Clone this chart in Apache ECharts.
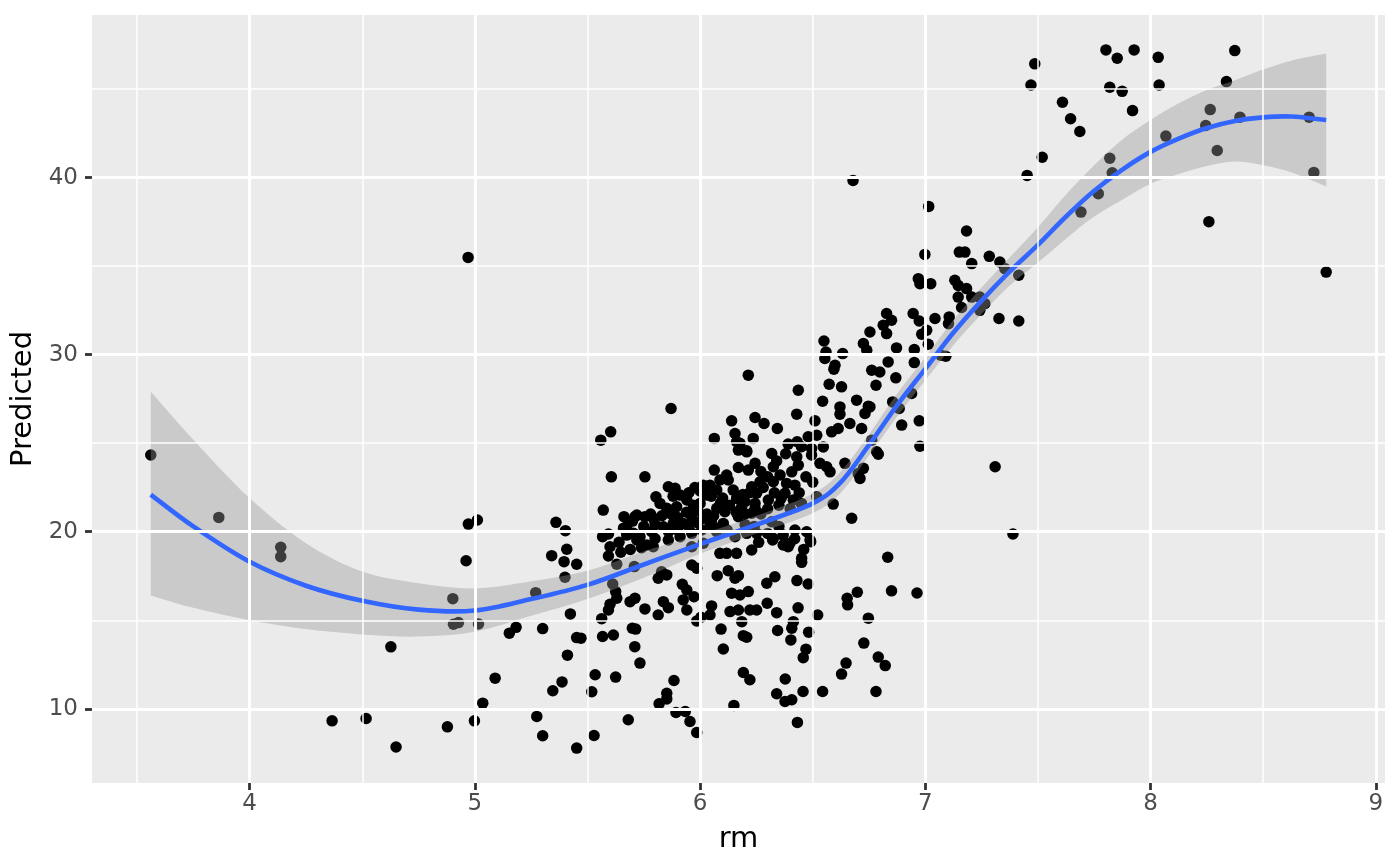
<!DOCTYPE html>
<html>
<head>
<meta charset="utf-8">
<script src="https://cdn.jsdelivr.net/npm/echarts@6/dist/echarts.min.js"></script>
<style>
html,body{margin:0;padding:0;background:#fff;}
#chart{width:1400px;height:866px;}
</style>
</head>
<body>
<div id="chart"></div>
<script>
// ---- data: [rm, Predicted] pairs, grouped by region ----
const ptsLeft = [[3.561,24.33],[3.863,20.81],[4.138,19.12],[4.138,18.59],[4.971,20.43],[5.011,20.66],[4.961,18.36],[4.902,16.22],[4.905,14.78],[4.927,14.87],[5.016,14.79],[4.627,13.5],[4.366,9.32],[4.517,9.45],[4.65,7.84],[4.878,8.98],[4.998,9.32],[5.035,10.32],[4.97,35.49]];
const ptsMidLeft = [[5.603,25.64],[5.559,25.17],[5.606,23.1],[5.57,21.22],[5.36,20.53],[5.402,20.06],[5.408,19.01],[5.341,18.65],[5.396,18.31],[5.452,18.16],[5.4,17.43],[5.27,16.56],[5.183,14.6],[5.153,14.27],[5.301,14.53],[5.424,15.36],[5.452,14.02],[5.471,13.99],[5.411,13.03],[5.09,11.73],[5.387,11.52],[5.346,11.02],[5.275,9.57],[5.301,8.48],[5.452,7.78],[5.529,8.49],[5.519,10.96],[5.534,11.92],[5.625,11.79],[5.681,9.38],[5.567,14.08],[5.615,14.17],[5.563,15.09],[5.593,15.58],[5.6,15.9],[5.63,16.24],[5.625,16.62],[5.612,17.05],[5.63,18.16],[5.593,18.63],[5.6,19.15],[5.648,18.84],[5.567,19.72],[5.593,19.87],[5.662,20.85],[5.674,20.28],[5.711,20.85],[5.674,19.81],[5.704,19.91],[5.719,19.53],[5.708,18.03],[5.689,16.05],[5.711,16.24],[5.699,14.55],[5.714,14.5],[5.71,13.51],[5.733,12.58]];
const ptsCoreLow = [[5.884,11.6],[5.852,10.88],[5.818,10.28],[5.852,10.56],[5.893,9.79],[5.934,9.85],[5.955,9.28],[5.985,8.66],[6.15,10.19],[6.093,14.5],[6.103,13.38],[6.192,12.05],[6.221,11.64],[6.192,14.13],[6.207,14.04],[5.814,15.3],[5.755,15.64],[5.837,16.05],[5.859,15.71],[5.921,17.03],[5.941,16.71],[5.925,16.15],[5.973,16.33],[5.941,15.58],[5.985,14.96],[6.004,15.17],[6.044,15.3],[6.051,15.81],[5.963,18.12],[5.985,17.94],[5.814,17.37],[5.852,17.56],[5.829,17.74],[6.076,17.52],[6.125,17.8],[6.17,17.52],[6.155,17.37],[6.14,16.53],[6.177,16.43],[6.214,16.62],[6.133,15.49],[6.17,15.58],[6.185,14.92],[6.221,15.58],[6.251,15.58],[6.088,18.78],[6.118,18.78],[6.162,18.78],[6.229,18.97]];
const ptsCoreHigh = [[5.871,26.96],[6.14,26.26],[6.244,26.45],[6.063,25.27],[6.155,25.55],[6.162,25.08],[6.17,24.61],[6.207,24.57],[6.236,25.27],[5.755,23.1],[6.063,23.48],[6.118,23.2],[6.17,23.63],[6.214,23.48],[6.244,23.86],[5.859,22.54],[5.889,22.45],[5.977,22.5],[6.014,22.63],[6.044,22.63],[6.088,22.92],[6.125,22.92],[6.147,22.35],[6.229,22.54],[5.804,21.97],[5.911,22.07],[5.941,21.79],[6.029,22.07],[6.074,22.35],[6.162,21.88],[5.719,20.94],[5.755,20.85],[5.792,20.76],[5.822,21.6],[5.852,21.32],[5.896,21.41],[5.97,21.5],[6.0,21.6],[6.074,21.32],[6.11,21.13],[6.185,21.41],[6.244,21.6],[5.733,19.72],[5.785,20.0],[5.837,20.28],[5.881,20.47],[5.925,20.47],[5.963,20.85],[6.014,20.76],[6.044,20.38],[6.103,20.47],[6.17,20.85],[6.229,21.04],[5.763,19.25],[5.792,19.15],[5.859,19.53],[5.911,19.72],[5.963,19.91],[6.007,20.1],[6.074,20.0],[6.155,19.72],[6.207,19.91],[5.963,19.15],[6.014,19.35]];
const ptsCoreFill = [[5.78,21.0],[5.83,20.9],[5.87,21.0],[5.9,20.8],[5.94,21.1],[5.99,21.2],[6.03,21.0],[6.06,20.9],[6.09,21.6],[6.13,21.5],[6.16,21.1],[6.2,21.0],[5.8,20.4],[5.86,20.0],[5.9,20.1],[5.95,20.3],[5.99,20.5],[6.05,20.6],[6.08,20.2],[6.12,20.1],[6.2,20.4],[6.24,20.3],[5.88,22.0],[5.95,22.2],[6.0,22.3],[6.05,22.0],[6.1,21.9],[6.19,22.1],[6.22,22.2],[5.75,20.3],[5.7,20.6],[5.66,20.2],[5.64,19.4],[5.69,19.0],[5.74,19.1],[5.8,19.6],[6.27,21.0],[6.3,21.3],[6.35,21.5],[6.4,21.3],[6.45,21.6],[6.28,22.5],[6.33,22.2],[6.36,21.9],[6.3,23.1],[6.27,23.4],[6.34,24.0],[6.38,24.4],[6.45,24.8],[6.47,23.1],[6.5,22.8],[6.44,22.2],[6.26,19.4],[6.3,19.9],[6.35,20.3],[6.42,19.6],[6.46,19.0]];
const ptsRightLow = [[6.833,18.56],[6.85,16.66],[6.698,16.58],[6.653,16.24],[6.655,15.87],[6.747,15.12],[6.727,13.71],[6.791,12.92],[6.822,12.44],[6.648,12.58],[6.628,11.96],[6.781,10.98],[6.544,10.98],[6.457,10.98],[6.378,11.68],[6.34,10.85],[6.377,10.41],[6.407,10.51],[6.432,9.23],[6.522,15.3],[6.482,14.33],[6.47,13.37],[6.458,12.89],[6.403,13.89],[6.414,14.92],[6.407,14.55],[6.344,14.42],[6.34,15.43],[6.298,15.96],[6.435,15.7],[6.48,17.05],[6.43,17.24],[6.332,17.46],[6.296,17.09],[6.451,18.27],[6.369,19.25],[6.399,19.35],[6.491,19.44],[6.322,19.53],[6.963,16.54],[7.389,19.87]];
const ptsRightMid = [[6.214,28.84],[6.55,30.77],[6.559,30.15],[6.554,29.78],[6.633,30.06],[6.599,29.4],[6.594,29.18],[6.436,27.99],[6.573,28.33],[6.628,28.18],[6.544,27.37],[6.429,26.64],[6.621,27.05],[6.621,26.64],[6.695,27.43],[6.747,27.09],[6.732,26.68],[6.284,26.11],[6.343,25.83],[6.51,26.26],[6.391,24.95],[6.431,25.08],[6.48,25.36],[6.518,25.45],[6.584,25.64],[6.613,25.83],[6.665,26.11],[6.717,25.83],[6.762,25.17],[6.784,24.51],[6.495,24.7],[6.547,24.79],[6.177,24.99],[6.207,24.51],[6.318,24.42],[6.429,24.23],[6.495,24.33],[6.532,23.86],[6.562,23.67],[6.577,23.38],[6.643,23.86],[6.702,23.29],[6.725,23.58],[6.71,23.01],[6.325,23.67],[6.355,23.2],[6.407,23.38],[6.436,23.76],[6.384,22.73],[6.421,22.63],[6.266,22.82],[6.325,22.82],[6.251,22.17],[6.303,21.79],[6.199,21.69],[6.377,22.17],[6.414,21.79],[6.518,21.97],[6.591,21.56],[6.673,20.76],[6.244,21.32],[6.177,21.22],[6.318,20.56],[6.251,19.91],[6.325,19.63],[6.369,19.81],[6.421,20.1],[6.473,20.0],[6.488,19.53],[6.391,19.15],[6.451,18.5],[6.679,39.84]];
const ptsUpper = [[6.828,32.32],[6.813,31.66],[6.828,31.19],[6.754,31.28],[6.725,30.63],[6.74,30.25],[6.762,29.12],[6.798,29.02],[6.781,28.27],[6.835,29.59],[7.519,41.15],[7.452,40.12],[7.015,38.37],[7.183,36.98],[6.998,35.66],[7.151,35.79],[7.176,35.79],[7.206,35.14],[7.284,35.55],[7.331,35.23],[7.353,34.86],[7.415,34.48],[6.969,34.29],[6.976,34.01],[7.024,34.01],[7.131,34.2],[7.146,33.91],[7.183,33.73],[7.146,33.25],[7.206,33.25],[7.242,33.25],[7.264,32.88],[7.242,32.5],[7.161,32.66],[7.327,32.04],[7.415,31.9],[7.106,32.13],[7.103,31.75],[6.85,31.94],[6.946,32.32],[6.973,31.9],[7.043,32.04],[7.006,31.38],[6.984,31.15],[7.013,30.59],[6.872,30.38],[6.951,30.29],[7.069,29.97],[7.091,29.91],[6.951,29.55],[6.869,28.69],[6.939,27.81],[6.855,27.33],[6.884,26.96],[6.754,27.05],[6.973,26.26],[6.895,26.02],[6.791,24.38],[6.976,24.83],[7.31,23.67]];
const ptsTop = [[7.486,46.42],[7.469,45.23],[7.802,47.21],[7.852,46.74],[7.927,47.21],[8.034,46.79],[7.819,45.1],[7.874,44.87],[8.038,45.23],[8.374,47.17],[8.337,45.42],[7.609,44.25],[7.645,43.32],[7.686,42.6],[7.92,43.78],[7.819,41.09],[7.83,40.27],[8.068,42.34],[8.265,43.84],[8.245,42.94],[8.296,41.53],[8.397,43.41],[8.704,43.41],[8.725,40.29],[8.259,37.51],[8.78,34.66],[7.768,39.09],[7.691,38.05]];

// ---- loess smooth (fit, lower and upper 95% band) ----
const smoothX  = [3.561,3.75,4.0,4.25,4.5,4.75,5.0,5.25,5.5,5.75,6.0,6.25,6.5,6.625,6.75,6.875,7.0,7.125,7.25,7.375,7.5,7.625,7.75,7.875,8.0,8.125,8.25,8.375,8.5,8.625,8.78];
const smoothFit= [22.1,20.3,18.3,16.95,16.1,15.6,15.55,16.2,17.0,18.15,19.3,20.4,21.6,22.8,24.9,27.15,29.2,31.25,33.05,34.7,36.2,37.8,39.25,40.45,41.45,42.2,42.8,43.2,43.4,43.45,43.25];
const smoothLo = [16.4,15.7,15.0,14.5,14.2,14.08,14.35,15.25,16.2,17.4,18.75,19.9,21.05,22.2,24.3,26.5,28.55,30.55,32.3,33.9,35.2,36.55,37.8,38.75,39.65,40.2,40.65,40.9,40.7,40.3,39.5];
const smoothHi = [27.9,25.2,21.9,19.35,17.75,17.09,16.8,17.2,17.8,18.9,19.85,20.9,22.15,23.4,25.5,27.8,29.85,31.95,33.8,35.5,37.2,39.05,40.7,42.15,43.25,44.2,44.95,45.5,46.1,46.6,47.0];

// ---- axes ----
const xTicks = [4,5,6,7,8,9];
const xMinor = [3.5,4.5,5.5,6.5,7.5,8.5];
const yTicks = [10,20,30,40];
const yMinor = [15,25,35,45];
const xLim = [3.300, 9.041];
const yLim = [5.81, 49.18];

const points = [].concat(ptsLeft, ptsMidLeft, ptsCoreLow, ptsCoreHigh, ptsCoreFill, ptsRightLow, ptsRightMid, ptsUpper, ptsTop);

// Catmull-Rom spline through pixel points -> SVG path segments
function splineSegs(p) {
  let s = '';
  for (let i = 0; i < p.length - 1; i++) {
    const p0 = p[Math.max(i - 1, 0)], p1 = p[i], p2 = p[i + 1], p3 = p[Math.min(i + 2, p.length - 1)];
    const c1 = [p1[0] + (p2[0] - p0[0]) / 6, p1[1] + (p2[1] - p0[1]) / 6];
    const c2 = [p2[0] - (p3[0] - p1[0]) / 6, p2[1] - (p3[1] - p1[1]) / 6];
    s += 'C' + c1[0] + ',' + c1[1] + ' ' + c2[0] + ',' + c2[1] + ' ' + p2[0] + ',' + p2[1];
  }
  return s;
}

const FONT = 'DejaVu Sans';
const chart = echarts.init(document.getElementById('chart'), null, {renderer:'canvas'});
const gridLine = (w)=>({color:'#ffffff', width:w, type:'solid'});
chart.setOption({
  animation:false,
  backgroundColor:'#ffffff',
  grid:{left:92, right:15, top:15, bottom:83, show:true, backgroundColor:'#EBEBEB', borderWidth:0},
  xAxis:{
    type:'value', min:xLim[0], max:xLim[1],
    name:'rm', nameLocation:'middle', nameGap:42,
    nameTextStyle:{fontFamily:FONT, fontSize:29, color:'#000'},
    axisLine:{show:false},
    axisTick:{show:true, customValues:xTicks, length:7, lineStyle:{color:'#333333', width:2.8}},
    axisLabel:{customValues:xTicks, fontFamily:FONT, fontSize:23, color:'#4D4D4D', margin:10},
    splitLine:{show:false}
  },
  yAxis:{
    type:'value', min:yLim[0], max:yLim[1],
    name:'Predicted', nameLocation:'middle', nameGap:41, nameRotate:90,
    nameTextStyle:{fontFamily:FONT, fontSize:29, color:'#000'},
    axisLine:{show:false},
    axisTick:{show:true, customValues:yTicks, length:7, lineStyle:{color:'#333333', width:2.8}},
    axisLabel:{customValues:yTicks, fontFamily:FONT, fontSize:23, color:'#4D4D4D', margin:14},
    splitLine:{show:false}
  },
  series:[
    {type:'scatter', name:'gridMinor', data:[], z:1, silent:true,
     markLine:{silent:true, symbol:['none','none'], label:{show:false}, lineStyle:gridLine(1.5),
       emphasis:{disabled:true},
       data: xMinor.map(v=>({xAxis:v})).concat(yMinor.map(v=>({yAxis:v})))}},
    {type:'scatter', name:'gridMajor', data:[], z:1, silent:true,
     markLine:{silent:true, symbol:['none','none'], label:{show:false}, lineStyle:gridLine(2.9),
       emphasis:{disabled:true},
       data: xTicks.map(v=>({xAxis:v})).concat(yTicks.map(v=>({yAxis:v})))}},
    {type:'scatter', name:'points', data:points, symbol:'circle', symbolSize:11.5, z:2,
     itemStyle:{color:'#000000', opacity:1}, silent:true},
    {type:'custom', name:'ribbon', data:[[smoothX[0], smoothFit[0]]], z:3, silent:true, clip:false,
     renderItem:function(params, api){
       const up = smoothX.map((x,i)=>api.coord([x, smoothHi[i]]));
       const lo = smoothX.map((x,i)=>api.coord([x, smoothLo[i]])).reverse();
       const d = 'M' + up[0][0] + ',' + up[0][1] + splineSegs(up) +
                 'L' + lo[0][0] + ',' + lo[0][1] + splineSegs(lo) + 'Z';
       return {type:'path', shape:{pathData:d}, style:{fill:'rgba(153,153,153,0.4)', stroke:null}};
     }},
    {type:'custom', name:'fit', data:[[smoothX[0], smoothFit[0]]], z:4, silent:true, clip:false,
     renderItem:function(params, api){
       const p = smoothX.map((x,i)=>api.coord([x, smoothFit[i]]));
       const d = 'M' + p[0][0] + ',' + p[0][1] + splineSegs(p);
       return {type:'path', shape:{pathData:d}, style:{fill:null, stroke:'#3366FF', lineWidth:4.6, lineCap:'butt', lineJoin:'round'}};
     }}
  ]
});
</script>
</body>
</html>
